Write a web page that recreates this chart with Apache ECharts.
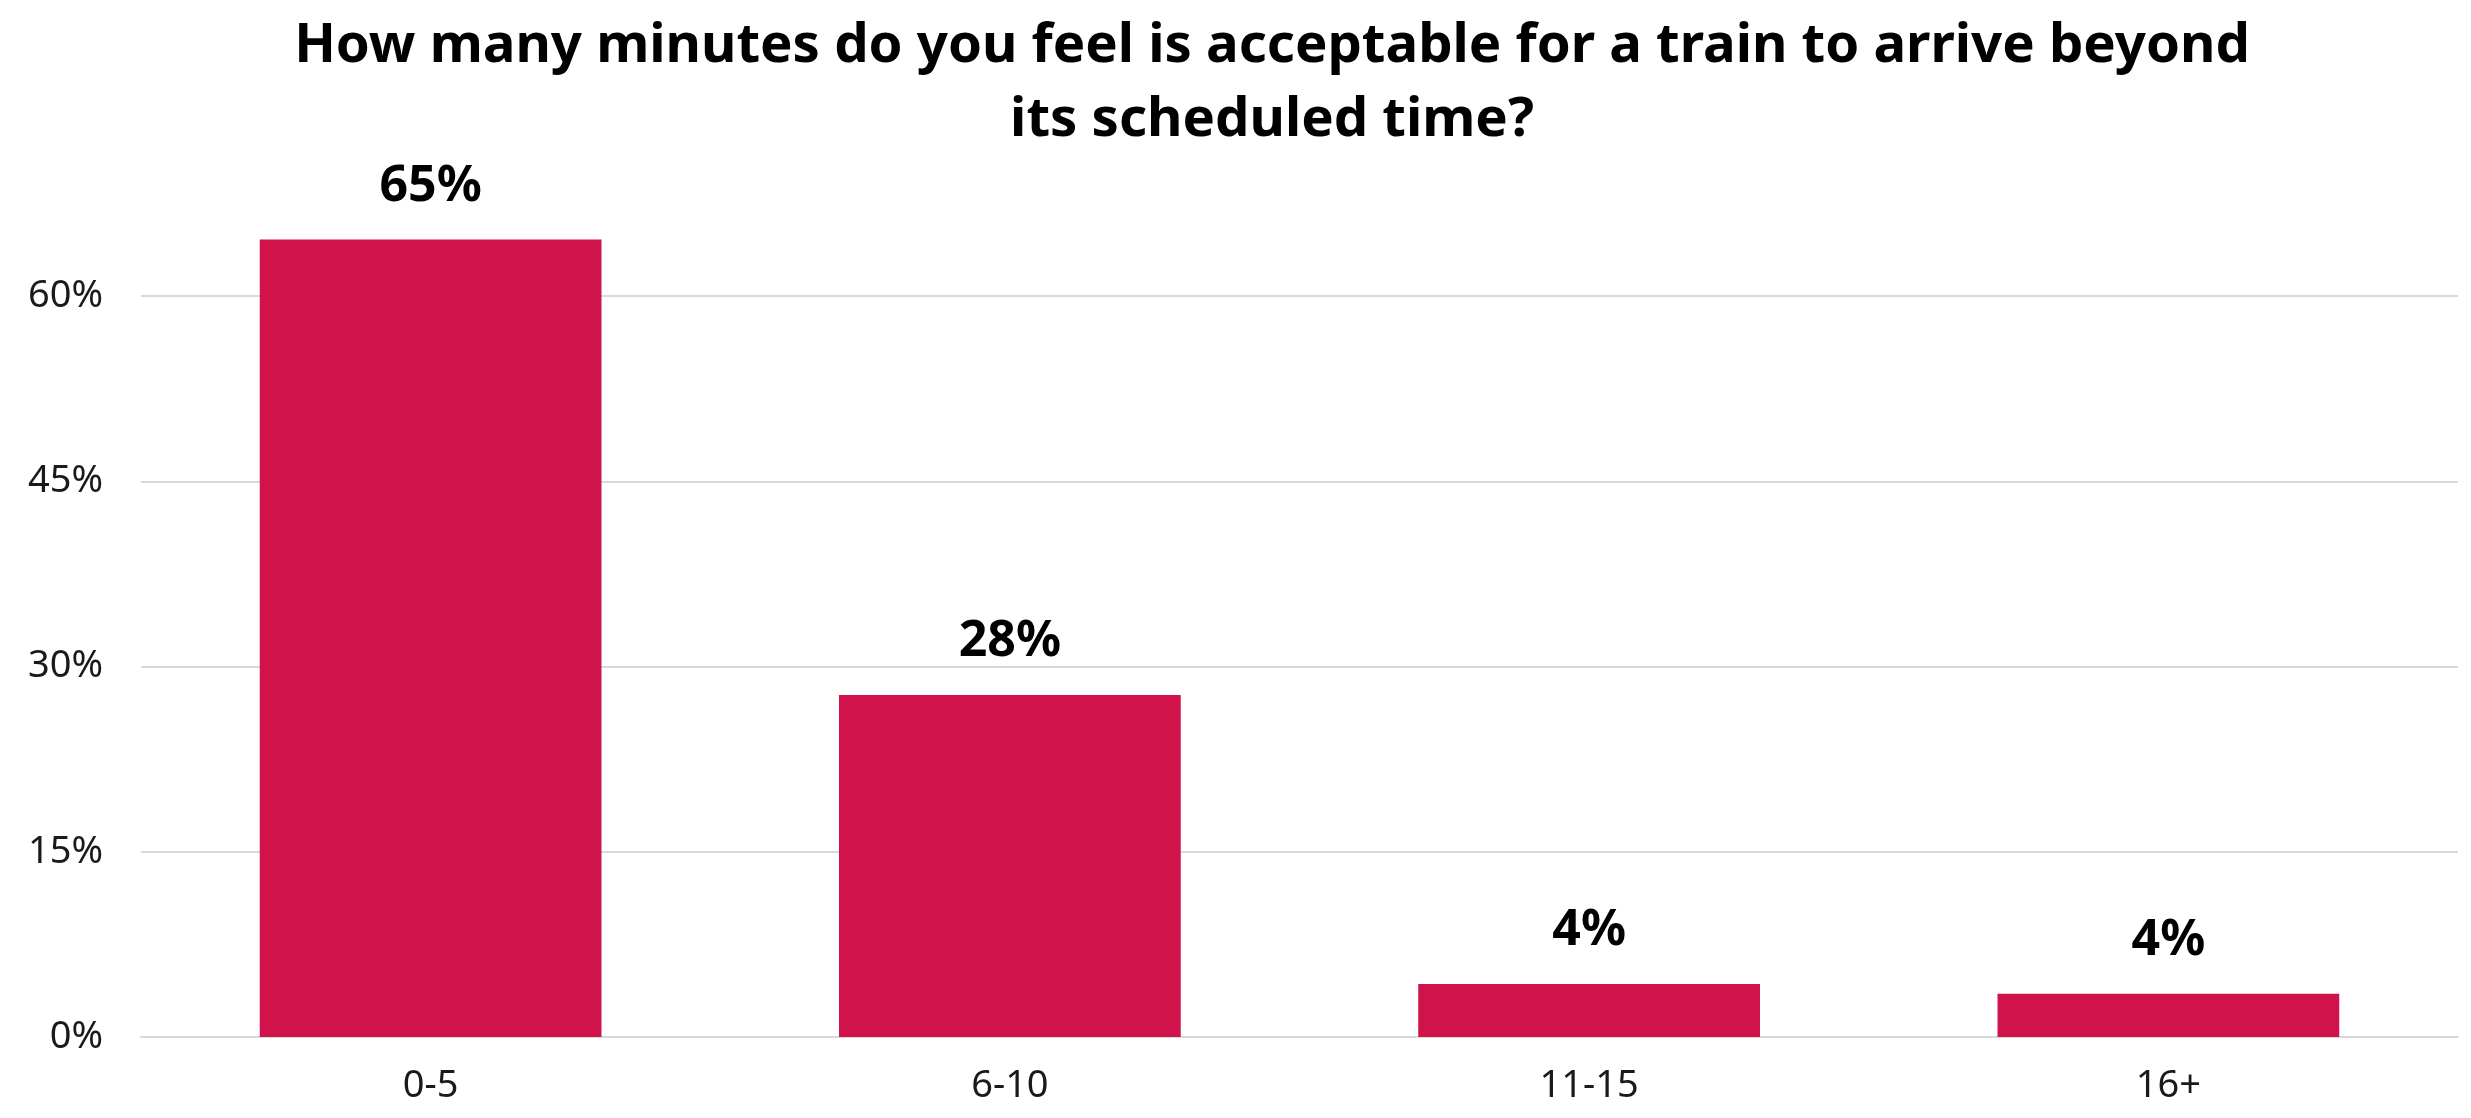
<!DOCTYPE html>
<html><head><meta charset="utf-8">
<script src="https://cdn.jsdelivr.net/npm/echarts@6/dist/echarts.min.js"></script>
<style>html,body{margin:0;padding:0;background:#fff}#c{width:2471px;height:1118px}</style>
</head><body><div id="c"></div>
<script>
const titleText = "How many minutes do you feel is acceptable for a train to arrive beyond\nits scheduled time?";
const categories = ["0-5", "6-10", "11-15", "16+"];
const values = [64.6, 27.7, 4.3, 3.5];
const valueLabels = ["65%", "28%", "4%", "4%"];
const yTicks = [0, 15, 30, 45, 60, 75];

const FONT = "'Noto Sans', sans-serif";
const chart = echarts.init(document.getElementById('c'), null, {renderer: 'canvas'});
chart.setOption({
  backgroundColor: '#ffffff',
  animation: false,
  title: {
    text: titleText,
    left: 1267,
    top: 4,
    textAlign: 'center',
    textStyle: {fontFamily: FONT, fontWeight: 'bold', fontSize: 54.5, lineHeight: 74, color: '#000'}
  },
  grid: {left: 141, right: 13, top: 111, bottom: 81, containLabel: false},
  xAxis: {
    type: 'category',
    data: categories,
    axisLine: {show: true, lineStyle: {color: '#d9d9d9', width: 2}},
    axisTick: {show: false},
    axisLabel: {fontFamily: FONT, fontSize: 38, color: '#1a1a1a', margin: 30}
  },
  yAxis: {
    type: 'value',
    min: yTicks[0],
    max: yTicks[yTicks.length - 1],
    interval: 15,
    axisLine: {show: false},
    axisTick: {show: false},
    axisLabel: {fontFamily: FONT, fontSize: 38, color: '#1a1a1a', margin: 38, showMaxLabel: false, formatter: v => v + '%'},
    splitLine: {show: true, showMaxLine: false, lineStyle: {color: '#d9d9d9', width: 2}}
  },
  series: [{
    type: 'bar',
    data: values,
    barCategoryGap: '41%',
    itemStyle: {color: '#D0134A'},
    label: {
      show: true,
      position: 'top',
      distance: 28,
      fontFamily: FONT,
      fontWeight: 'bold',
      fontSize: 50,
      color: '#000',
      formatter: p => valueLabels[p.dataIndex]
    }
  }]
});
</script></body></html>
